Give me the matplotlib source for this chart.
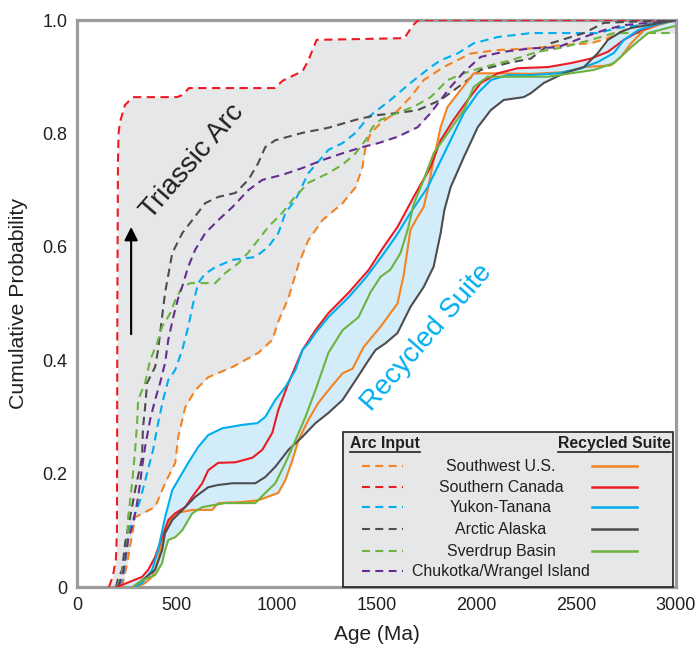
import matplotlib
matplotlib.use("Agg")
import matplotlib.pyplot as plt
import numpy as np
from matplotlib.patches import Rectangle
from matplotlib.lines import Line2D

plt.rcParams['font.family'] = ['Liberation Sans', 'DejaVu Sans']

# ---- data: age (Ma) and cumulative probability ----
regions = ["Southwest U.S.", "Southern Canada", "Yukon-Tanana",
           "Arctic Alaska", "Sverdrup Basin", "Chukotka/Wrangel Island"]
colors = ["#f58220", "#ed1c24", "#00aeef", "#4d4d4f", "#6cb33f", "#662d91"]

# arc input (dashed)
arc_sw_x = [225, 250, 275, 291, 340, 391, 441, 492, 507, 542, 592, 657, 778, 908, 978, 1010, 1059, 1110,
            1159, 1229, 1330, 1395, 1430, 1445, 1470, 1520, 1600, 1670, 1736, 1836, 1972, 2107, 2273,
            2438, 2574, 2659, 2739, 2860, 3000]
arc_sw_y = [0, 0.04, 0.09, 0.123, 0.132, 0.141, 0.183, 0.219, 0.265, 0.317, 0.347, 0.37, 0.388, 0.413,
            0.436, 0.47, 0.51, 0.57, 0.612, 0.647, 0.677, 0.705, 0.741, 0.776, 0.80, 0.818, 0.838, 0.864,
            0.894, 0.917, 0.941, 0.947, 0.95, 0.956, 0.959, 0.968, 0.982, 0.995, 1.0]

arc_sc_x = [160, 180, 195, 200, 202, 205, 208, 215, 240, 280, 500, 530, 560, 990, 1030, 1130, 1160,
            1200, 1640, 1680, 1710, 3000]
arc_sc_y = [0, 0.02, 0.05, 0.1, 0.5, 0.75, 0.8, 0.82, 0.85, 0.864, 0.864, 0.868, 0.88, 0.88, 0.893,
            0.91, 0.93, 0.965, 0.968, 0.99, 1.0, 1.0]

arc_yt_x = [215, 235, 250, 256, 316, 351, 381, 406, 431, 457, 492, 527, 557, 582, 607, 640, 692, 778,
            893, 958, 1008, 1044, 1094, 1159, 1259, 1330, 1395, 1460, 1570, 1670, 1771, 1821, 1906, 1987,
            2107, 2273, 2609, 2709, 2825, 3000]
arc_yt_y = [0, 0.03, 0.07, 0.095, 0.153, 0.201, 0.242, 0.289, 0.33, 0.365, 0.383, 0.418, 0.459, 0.501,
            0.536, 0.552, 0.564, 0.577, 0.582, 0.6, 0.624, 0.66, 0.683, 0.73, 0.771, 0.783, 0.801, 0.829,
            0.859, 0.889, 0.917, 0.929, 0.941, 0.959, 0.970, 0.977, 0.977, 0.986, 0.991, 1.0]

arc_aa_x = [195, 206, 226, 241, 266, 291, 326, 330, 341, 351, 391, 406, 426, 441, 477, 527, 577, 642,
            707, 793, 858, 908, 943, 993, 1129, 1259, 1395, 1495, 1605, 1706, 1821, 1937, 2022, 2157,
            2273, 2373, 2539, 2639, 2775, 3000]
arc_aa_y = [0, 0.016, 0.03, 0.078, 0.123, 0.171, 0.229, 0.28, 0.317, 0.36, 0.388, 0.418, 0.476, 0.519,
            0.589, 0.624, 0.647, 0.677, 0.688, 0.695, 0.718, 0.748, 0.776, 0.788, 0.801, 0.81, 0.824,
            0.832, 0.836, 0.841, 0.859, 0.889, 0.912, 0.924, 0.932, 0.959, 0.977, 0.995, 0.997, 1.0]

arc_sb_x = [200, 226, 251, 256, 276, 291, 301, 306, 341, 366, 401, 426, 467, 492, 527, 567, 692, 743,
            808, 858, 958, 1028, 1079, 1159, 1259, 1330, 1395, 1445, 1480, 1520, 1605, 1686, 1771, 1856,
            1937, 2037, 2172, 2308, 2438, 2574, 2689, 3000]
arc_sb_y = [0, 0.025, 0.065, 0.123, 0.183, 0.242, 0.289, 0.33, 0.36, 0.4, 0.43, 0.459, 0.483, 0.506,
            0.529, 0.536, 0.536, 0.554, 0.571, 0.59, 0.635, 0.66, 0.683, 0.713, 0.73, 0.745, 0.765, 0.788,
            0.811, 0.824, 0.836, 0.847, 0.864, 0.894, 0.906, 0.917, 0.929, 0.944, 0.952, 0.965, 0.977,
            0.977]

arc_cw_x = [205, 231, 256, 281, 301, 316, 326, 341, 366, 391, 416, 441, 457, 482, 507, 527, 557, 592,
            642, 707, 778, 858, 928, 1028, 1129, 1229, 1330, 1430, 1510, 1605, 1706, 1771, 1821, 1871,
            1937, 2022, 2137, 2273, 2408, 2539, 2639, 2739, 2860, 3000]
arc_cw_y = [0, 0.025, 0.083, 0.113, 0.148, 0.183, 0.212, 0.247, 0.295, 0.33, 0.36, 0.395, 0.436, 0.476,
            0.51, 0.53, 0.565, 0.595, 0.624, 0.647, 0.67, 0.7, 0.718, 0.727, 0.739, 0.753, 0.765, 0.776,
            0.783, 0.794, 0.811, 0.836, 0.859, 0.882, 0.908, 0.935, 0.944, 0.95, 0.952, 0.97, 0.982,
            0.991, 0.995, 0.998]

# recycled suite (solid)
rec_sw_x = [300, 341, 376, 406, 426, 457, 492, 577, 677, 707, 828, 908, 1008, 1044, 1079, 1109, 1159,
            1209, 1259, 1330, 1380, 1435, 1520, 1605, 1636, 1670, 1706, 1736, 1756, 1786, 1821, 1856,
            1922, 1987, 2107, 2273, 2438, 2539, 2674, 2724, 2775, 2840, 2910, 3000]
rec_sw_y = [0, 0.007, 0.018, 0.048, 0.083, 0.113, 0.13, 0.136, 0.136, 0.148, 0.15, 0.153, 0.166, 0.189,
            0.224, 0.259, 0.295, 0.325, 0.347, 0.377, 0.385, 0.423, 0.459, 0.5, 0.55, 0.63, 0.653, 0.67,
            0.7, 0.753, 0.811, 0.847, 0.877, 0.906, 0.906, 0.905, 0.908, 0.917, 0.92, 0.935, 0.959, 0.982,
            0.991, 1.0]

rec_sc_x = [200, 256, 326, 356, 391, 426, 457, 492, 542, 577, 627, 657, 707, 793, 878, 928, 978, 1008,
            1059, 1129, 1194, 1259, 1360, 1460, 1530, 1605, 1686, 1771, 1821, 1886, 1957, 2022, 2107,
            2207, 2358, 2473, 2574, 2659, 2739, 2825, 2925, 3000]
rec_sc_y = [0, 0.008, 0.018, 0.03, 0.053, 0.088, 0.118, 0.13, 0.141, 0.159, 0.183, 0.206, 0.219, 0.22,
            0.228, 0.242, 0.272, 0.312, 0.36, 0.418, 0.453, 0.483, 0.519, 0.559, 0.597, 0.635, 0.688,
            0.741, 0.788, 0.824, 0.859, 0.889, 0.906, 0.915, 0.917, 0.924, 0.932, 0.944, 0.965, 0.982,
            0.995, 1.0]

rec_yt_x = [290, 326, 376, 406, 441, 477, 507, 557, 607, 657, 728, 828, 903, 943, 993, 1044, 1094, 1129,
            1159, 1194, 1259, 1360, 1445, 1530, 1600, 1670, 1756, 1806, 1871, 1937, 2007, 2072, 2157,
            2273, 2408, 2524, 2609, 2689, 2739, 2810, 2890, 3000]
rec_yt_y = [0, 0.007, 0.03, 0.065, 0.123, 0.171, 0.189, 0.219, 0.247, 0.268, 0.28, 0.286, 0.289, 0.3,
            0.33, 0.353, 0.383, 0.418, 0.43, 0.448, 0.476, 0.511, 0.545, 0.585, 0.62, 0.66, 0.705, 0.741,
            0.788, 0.836, 0.871, 0.894, 0.903, 0.903, 0.906, 0.915, 0.926, 0.942, 0.965, 0.982, 0.991, 1.0]

rec_aa_x = [280, 326, 391, 426, 441, 477, 542, 592, 657, 707, 778, 893, 943, 993, 1059, 1129, 1194,
            1259, 1330, 1405, 1460, 1495, 1545, 1605, 1670, 1736, 1786, 1821, 1840, 1871, 1937, 2007,
            2072, 2137, 2237, 2273, 2338, 2438, 2539, 2609, 2659, 2724, 2775, 2860, 3000]
rec_aa_y = [0, 0.012, 0.03, 0.065, 0.095, 0.118, 0.141, 0.159, 0.176, 0.18, 0.183, 0.183, 0.194, 0.212,
            0.242, 0.265, 0.289, 0.307, 0.33, 0.37, 0.4, 0.418, 0.43, 0.448, 0.494, 0.529, 0.565, 0.624,
            0.665, 0.705, 0.758, 0.811, 0.841, 0.859, 0.864, 0.871, 0.889, 0.906, 0.917, 0.942, 0.965,
            0.979, 0.986, 0.991, 1.0]

rec_sb_x = [280, 326, 391, 426, 441, 457, 492, 527, 577, 627, 692, 743, 893, 943, 993, 1044, 1094, 1144,
            1194, 1259, 1330, 1410, 1470, 1520, 1570, 1620, 1656, 1686, 1736, 1786, 1856, 1937, 1987,
            2057, 2358, 2473, 2589, 2689, 2775, 2860, 3000]
rec_sb_y = [0, 0.012, 0.021, 0.042, 0.065, 0.083, 0.088, 0.1, 0.13, 0.141, 0.145, 0.148, 0.148, 0.166,
            0.183, 0.219, 0.259, 0.3, 0.347, 0.413, 0.453, 0.476, 0.52, 0.547, 0.56, 0.589, 0.63, 0.675,
            0.718, 0.765, 0.8, 0.841, 0.882, 0.9, 0.9, 0.906, 0.912, 0.924, 0.952, 0.977, 0.99]

arc_curves = [(arc_sw_x, arc_sw_y), (arc_sc_x, arc_sc_y), (arc_yt_x, arc_yt_y),
              (arc_aa_x, arc_aa_y), (arc_sb_x, arc_sb_y), (arc_cw_x, arc_cw_y)]
rec_curves = [(rec_sw_x, rec_sw_y), (rec_sc_x, rec_sc_y), (rec_yt_x, rec_yt_y),
              (rec_aa_x, rec_aa_y), (rec_sb_x, rec_sb_y)]

xticks = [0, 500, 1000, 1500, 2000, 2500, 3000]
yticks = [0, 0.2, 0.4, 0.6, 0.8, 1.0]
ytick_labels = ["0", "0.2", "0.4", "0.6", "0.8", "1.0"]

# ---- figure ----
fig = plt.figure(figsize=(6.97, 6.48), dpi=100)
ax = fig.add_axes([0.1105, 0.0941, 0.8594, 0.875])

grid = np.linspace(0, 3000, 3001)

# envelopes
arc_stack = np.array([np.interp(grid, cx, cy) for cx, cy in arc_curves])
ax.fill_between(grid, arc_stack.min(axis=0), arc_stack.max(axis=0),
                color="#e6e7e8", lw=0, zorder=1)
rec_stack = np.array([np.interp(grid, cx, cy) for cx, cy in rec_curves])
ax.fill_between(grid, rec_stack.min(axis=0), rec_stack.max(axis=0),
                color="#d2ecf9", lw=0, zorder=1)

for (cx, cy), c in zip(arc_curves, colors):
    ax.plot(cx, cy, color=c, lw=1.5, dashes=(4, 2.6), zorder=3)
for (cx, cy), c in zip(rec_curves, colors):
    ax.plot(cx, cy, color=c, lw=1.5, zorder=4)

ax.set_xlim(0, 3000)
ax.set_ylim(0, 1.0)
ax.set_xticks(xticks)
ax.set_yticks(yticks)
ax.set_yticklabels(ytick_labels)
ax.tick_params(length=0, labelsize=13, colors="#231f20")
ax.tick_params(axis="x", pad=7)
ax.tick_params(axis="y", pad=7)
for sp in ax.spines.values():
    sp.set_color("#9b9b9b")
    sp.set_linewidth(2.3)

ax.set_xlabel("Age (Ma)", fontsize=15, color="#231f20", labelpad=8)
ax.set_ylabel("Cumulative Probability", fontsize=15.3, color="#231f20", labelpad=10)

# annotations
ax.text(577, 0.75, "Triassic Arc", rotation=49, fontsize=20, color="#231f20",
        ha="center", va="center", rotation_mode="anchor", zorder=6)
ax.text(1750, 0.44, "Recycled Suite", rotation=49, fontsize=20, color="#00aeef",
        ha="center", va="center", rotation_mode="anchor", zorder=6)
ax.annotate("", xy=(271, 0.64), xytext=(271, 0.441),
            arrowprops=dict(arrowstyle="-|>", color="black", lw=1.5, mutation_scale=20),
            zorder=6)

# custom legend box
ax.add_patch(Rectangle((0.444, 0.0), 0.551, 0.273, transform=ax.transAxes,
                       facecolor="#e6e7e8", edgecolor="#231f20", lw=1.2, zorder=7,
                       clip_on=False))
h1 = ax.text(0.456, 0.254, "Arc Input", transform=ax.transAxes, fontsize=11.4,
             fontweight="bold", ha="left", va="center", color="#231f20", zorder=8)
h2 = ax.text(0.992, 0.254, "Recycled Suite", transform=ax.transAxes, fontsize=11.4,
             fontweight="bold", ha="right", va="center", color="#231f20", zorder=8)
row_y = [0.213, 0.176, 0.141, 0.102, 0.063, 0.028]
for i, (name, c) in enumerate(zip(regions, colors)):
    yy = row_y[i]
    ax.add_line(Line2D([0.476, 0.544], [yy, yy], transform=ax.transAxes, color=c,
                       lw=1.5, dashes=(3.8, 2.6), zorder=8))
    ax.text(0.708, yy, name, transform=ax.transAxes, fontsize=11.4, ha="center",
            va="center", color="#231f20", zorder=8)
    if i < len(rec_curves):
        ax.add_line(Line2D([0.860, 0.935], [yy, yy], transform=ax.transAxes, color=c,
                           lw=1.8, zorder=8))

# underline legend headers
fig.canvas.draw()
inv = ax.transAxes.inverted()
for t in (h1, h2):
    bb = t.get_window_extent()
    (x0, y0), (x1, _) = inv.transform([(bb.x0, bb.y0), (bb.x1, bb.y1)])
    ax.add_line(Line2D([x0, x1], [y0 - 0.002, y0 - 0.002], transform=ax.transAxes,
                       color="#231f20", lw=1.2, zorder=8))

fig.savefig("out.png", dpi=100)
